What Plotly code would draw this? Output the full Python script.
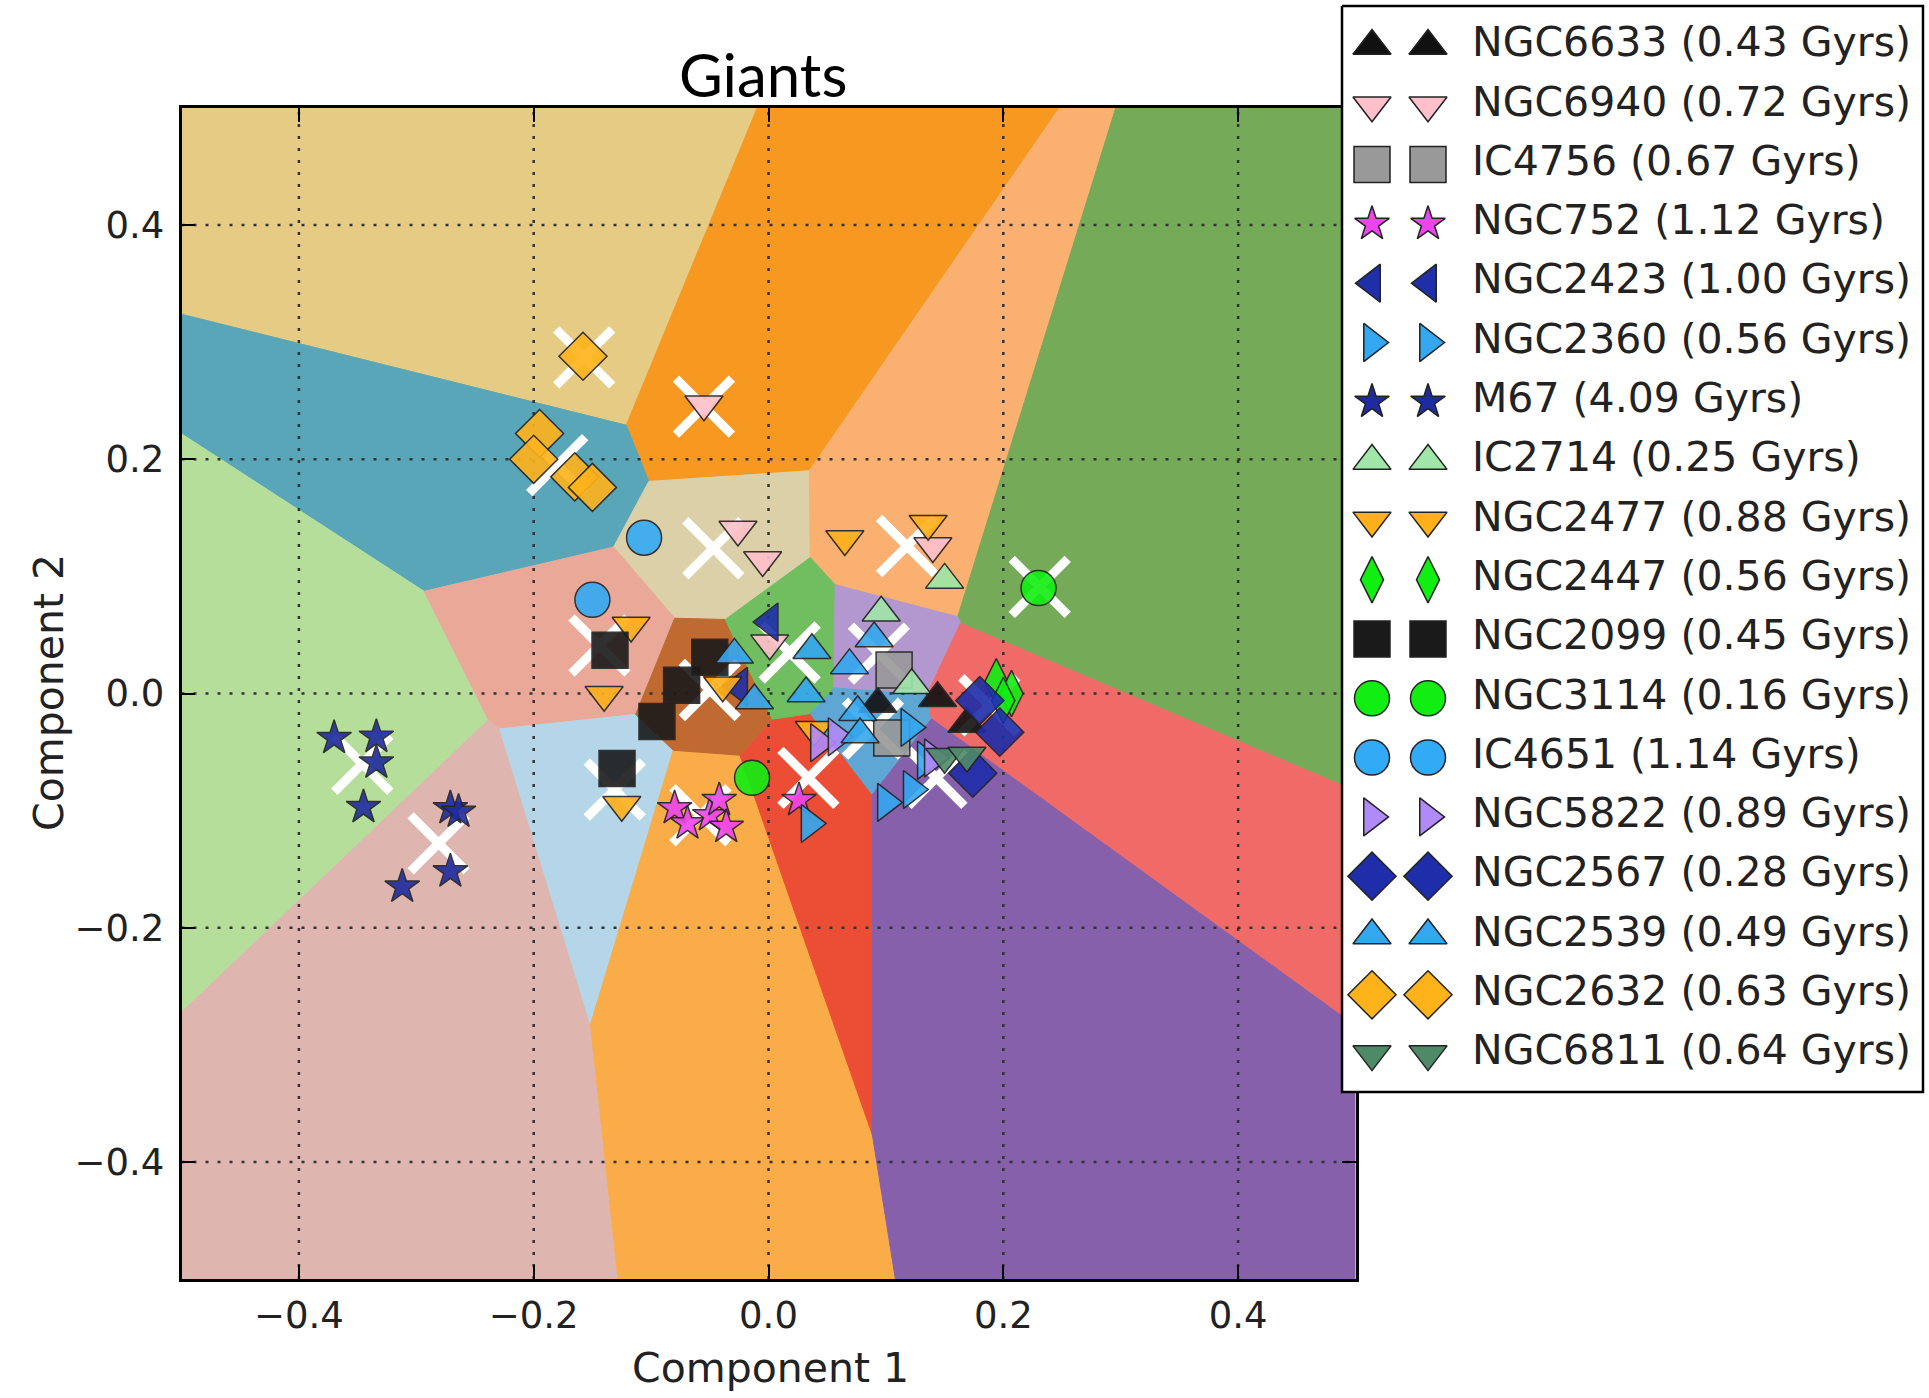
import plotly.graph_objects as go

# ---- k-means centres (Component 1, Component 2) and the colour of each decision region
centre_x = [-0.157, -0.055, -0.180, -0.047, 0.118, 0.231, -0.346, -0.281, -0.144,
            -0.131, -0.058, 0.034, -0.050, 0.018, 0.094, 0.089, 0.188, 0.143]
centre_y = [0.287, 0.245, 0.195, 0.124, 0.126, 0.091, -0.060, -0.128, 0.041,
            -0.082, -0.104, -0.072, 0.003, 0.035, 0.034, -0.030, -0.010, -0.072]
region_colors = ["#E6CB85", "#F79820", "#58A6B8", "#DCD0A8", "#F9B070", "#74AA58",
                 "#B6DE9B", "#DFB5B0", "#EAA998", "#B5D6E8", "#FAAC48", "#EB4E34",
                 "#C06A32", "#70BE60", "#B298CE", "#5EA6D4", "#F06B68", "#8760AC"]

# ---- cluster members projected on the two components
NGC6633 = ([0.144, 0.169, 0.093], [-0.004, -0.026, -0.009])
NGC6940 = ([-0.055, -0.026, -0.005, 0.140, 0.001], [0.247, 0.140, 0.114, 0.126, 0.043])
IC4756 = ([0.107, 0.105], [0.020, -0.038])
NGC752 = ([-0.080, -0.069, -0.050, -0.042, -0.036, 0.026], [-0.098, -0.111, -0.104, -0.091, -0.114, -0.091])
NGC2423 = ([0.001, -0.025], [0.061, 0.006])
NGC2360 = ([0.035, 0.100, 0.122, 0.120, 0.134], [-0.111, -0.093, -0.082, -0.029, -0.057])
M67 = ([-0.370, -0.334, -0.334, -0.345, -0.271, -0.264, -0.271, -0.312],
       [-0.038, -0.037, -0.059, -0.097, -0.098, -0.101, -0.152, -0.165])
IC2714 = ([0.150, 0.096, 0.122], [0.097, 0.069, 0.007])
NGC2477 = ([0.065, 0.136, -0.117, -0.140, -0.125, -0.039, 0.039],
           [0.132, 0.145, 0.058, -0.001, -0.095, 0.007, -0.031])
NGC2447 = ([0.194, 0.207, 0.200], [0.010, 0.000, -0.006])
NGC2099 = ([-0.135, -0.095, -0.074, -0.050, -0.129], [0.037, -0.024, 0.007, 0.031, -0.064])
NGC3114 = ([0.230, -0.014], [0.090, -0.072])
IC4651 = ([-0.106, -0.150], [0.133, 0.080])
NGC5822 = ([0.043, 0.058, 0.140], [-0.042, -0.037, -0.055])
NGC2567 = ([0.180, 0.197, 0.174], [-0.006, -0.033, -0.068])
NGC2539 = ([-0.029, -0.012, 0.037, 0.032, 0.069, 0.090, 0.076, 0.078],
           [0.033, -0.006, 0.037, 0.000, 0.024, 0.047, -0.016, -0.035])
NGC2632 = ([-0.158, -0.195, -0.200, -0.165, -0.150], [0.288, 0.222, 0.200, 0.185, 0.176])
NGC6811 = ([0.150, 0.169], [-0.054, -0.053])

cluster_names = ["NGC6633", "NGC6940", "IC4756", "NGC752", "NGC2423", "NGC2360", "M67",
                 "IC2714", "NGC2477", "NGC2447", "NGC2099", "NGC3114", "IC4651",
                 "NGC5822", "NGC2567", "NGC2539", "NGC2632", "NGC6811"]
cluster_ages = [0.43, 0.72, 0.67, 1.12, 1.00, 0.56, 4.09, 0.25, 0.88, 0.56, 0.45,
                0.16, 1.14, 0.89, 0.28, 0.49, 0.63, 0.64]
cluster_points = [NGC6633, NGC6940, IC4756, NGC752, NGC2423, NGC2360, M67, IC2714,
                  NGC2477, NGC2447, NGC2099, NGC3114, IC4651, NGC5822, NGC2567,
                  NGC2539, NGC2632, NGC6811]
cluster_symbols = ["triangle-up", "triangle-down", "square", "star", "triangle-left",
                   "triangle-right", "star", "triangle-up", "triangle-down", "diamond-tall",
                   "square", "circle", "circle", "triangle-right", "diamond", "triangle-up",
                   "diamond", "triangle-down"]
cluster_colors = ["#111111", "#FFC0CB", "#999999", "#EE44EE", "#1F2FAA", "#33A8F0",
                  "#1E2BA0", "#A0E6A8", "#FFB01A", "#11EE11", "#1A1A1A", "#11EE11",
                  "#33AAF5", "#B08AF8", "#1E2DAA", "#33A8F0", "#FFB31A", "#4E8A68"]

tick_vals = [-0.4, -0.2, 0.0, 0.2, 0.4]
tick_text = ["\u22120.4", "\u22120.2", "0.0", "0.2", "0.4"]

symbol_size = {"triangle-up": 33, "triangle-down": 33, "triangle-left": 33,
               "triangle-right": 33, "square": 36, "star": 26, "circle": 35,
               "diamond": 37, "diamond-tall": 33}

W, H = 1929, 1398
L, R, T, B = 181.5, 1355.5, 108, 1279


def clip_halfplane(poly, a, b, c):
    """Keep the part of a polygon with a*x + b*y <= c."""
    out = []
    n = len(poly)
    for k in range(n):
        p, q = poly[k], poly[(k + 1) % n]
        fp = a * p[0] + b * p[1] - c
        fq = a * q[0] + b * q[1] - c
        if fp <= 0:
            out.append(p)
        if fp * fq < 0:
            t = fp / (fp - fq)
            out.append((p[0] + t * (q[0] - p[0]), p[1] + t * (q[1] - p[1])))
    return out


def px(xp):
    return xp / W


def py(yp):
    return 1 - yp / H


fig = go.Figure()

# decision regions: Voronoi cells of the centres inside the plotted window
lim = 0.52
for i, col in enumerate(region_colors):
    cell = [(-lim, -lim), (lim, -lim), (lim, lim), (-lim, lim)]
    xi, yi = centre_x[i], centre_y[i]
    for j in range(len(centre_x)):
        if j == i:
            continue
        xj, yj = centre_x[j], centre_y[j]
        cell = clip_halfplane(cell, 2 * (xj - xi), 2 * (yj - yi),
                              xj ** 2 + yj ** 2 - xi ** 2 - yi ** 2)
    cx = [p[0] for p in cell] + [cell[0][0]]
    cy = [p[1] for p in cell] + [cell[0][1]]
    fig.add_trace(go.Scatter(x=cx, y=cy, mode="lines", fill="toself", fillcolor=col,
                             line=dict(color=col, width=1), hoverinfo="skip",
                             showlegend=False))

# dotted grid on top of the regions
for v in tick_vals:
    fig.add_trace(go.Scatter(x=[v, v], y=[-0.5, 0.5], mode="lines",
                             line=dict(color="#333333", width=2.5, dash="3px,9px"),
                             hoverinfo="skip", showlegend=False))
    fig.add_trace(go.Scatter(x=[-0.5, 0.5], y=[v, v], mode="lines",
                             line=dict(color="#333333", width=2.5, dash="3px,9px"),
                             hoverinfo="skip", showlegend=False))

# cluster centres
fig.add_trace(go.Scatter(x=centre_x, y=centre_y, mode="markers",
                         marker=dict(symbol="x-thin", size=56, color="white",
                                     line=dict(color="white", width=9)),
                         hoverinfo="skip", showlegend=False))

# cluster members
for name, pts, sym, col in zip(cluster_names, cluster_points, cluster_symbols, cluster_colors):
    fig.add_trace(go.Scatter(x=pts[0], y=pts[1], mode="markers", name=name,
                             marker=dict(symbol=sym, size=symbol_size[sym], color=col,
                                         opacity=0.9,
                                         line=dict(color="#222222", width=1.5)),
                             showlegend=False))

# ---- hand-built legend box with two sample markers per row (pixel coordinates)
LX0, LX1, LY0, LY1 = 1336, 1929, 0, 1098
box_l, box_r, box_t, box_b = 1342, 1923, 6, 1092
fig.add_trace(go.Scatter(x=[box_l, box_r, box_r, box_l, box_l],
                         y=[box_t, box_t, box_b, box_b, box_t],
                         mode="lines", fill="toself", fillcolor="white",
                         line=dict(color="black", width=2.5),
                         xaxis="x2", yaxis="y2", hoverinfo="skip", showlegend=False))
row0, row_step = 46, 59.3
for k, (name, age, sym, col) in enumerate(zip(cluster_names, cluster_ages,
                                              cluster_symbols, cluster_colors)):
    ry = row0 + row_step * k
    fig.add_trace(go.Scatter(x=[1372, 1428], y=[ry, ry], mode="markers",
                             marker=dict(symbol=sym, size=symbol_size[sym], color=col,
                                         line=dict(color="#222222", width=1.5)),
                             xaxis="x2", yaxis="y2", hoverinfo="skip", showlegend=False))
    fig.add_trace(go.Scatter(x=[1472], y=[ry], mode="text",
                             text=[f"{name} ({age:.2f} Gyrs)"],
                             textposition="middle right",
                             textfont=dict(family="DejaVu Sans", size=41, color="#222222"),
                             xaxis="x2", yaxis="y2", hoverinfo="skip", showlegend=False))

axis_common = dict(range=[-0.5, 0.5], showgrid=False, zeroline=False,
                   showline=True, linecolor="black", linewidth=2.5, mirror="ticks",
                   ticks="inside", ticklen=14, tickwidth=2, tickcolor="black",
                   tickvals=tick_vals, ticktext=tick_text,
                   tickfont=dict(family="DejaVu Sans", size=37, color="#222222"))

fig.update_layout(
    width=W, height=H,
    margin=dict(l=0, r=0, t=0, b=0, pad=0),
    paper_bgcolor="white", plot_bgcolor="rgba(0,0,0,0)",
    showlegend=False,
    xaxis=dict(**axis_common, domain=[px(L), px(R)], anchor="y", ticklabelstandoff=2),
    yaxis=dict(**axis_common, domain=[py(B), py(T)], anchor="x", ticklabelstandoff=7),
    xaxis2=dict(domain=[px(LX0), px(LX1)], range=[LX0, LX1],
                anchor="y2", visible=False, fixedrange=True),
    yaxis2=dict(domain=[py(LY1), py(LY0)], range=[LY1, LY0],
                anchor="x2", visible=False, fixedrange=True),
    annotations=[
        dict(text="Giants", x=px(763), y=py(74), xref="paper",
             yref="paper", showarrow=False, xanchor="center", yanchor="middle",
             font=dict(family="Lato", size=60, color="black")),
        dict(text="Component 1", x=px(770), y=py(1368),
             xref="paper", yref="paper", showarrow=False, xanchor="center",
             yanchor="middle", font=dict(family="DejaVu Sans", size=41, color="#222222")),
        dict(text="Component 2", x=px(49), y=py(693),
             xref="paper", yref="paper", showarrow=False, xanchor="center",
             yanchor="middle", textangle=-90,
             font=dict(family="DejaVu Sans", size=41, color="#222222")),
    ],
)

fig.write_html("out.html")
